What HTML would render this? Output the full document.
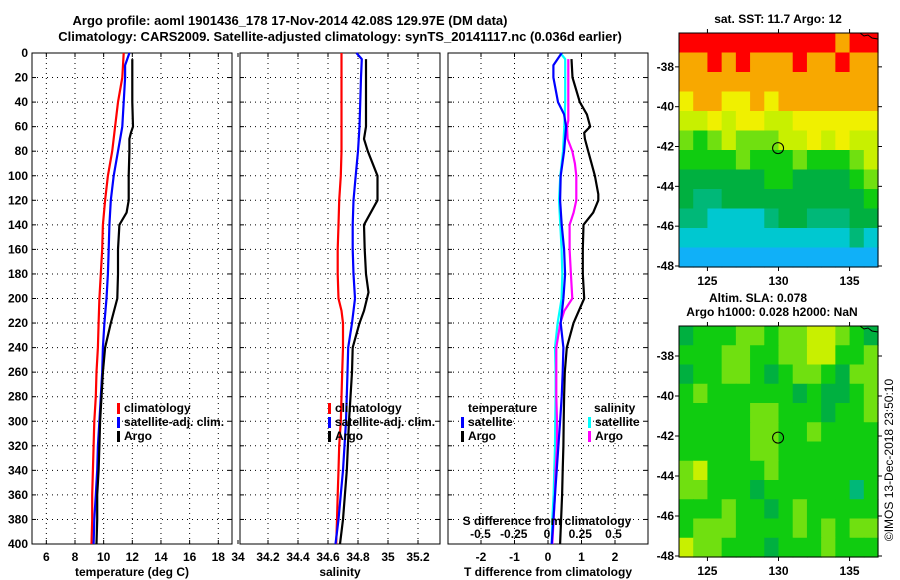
<!DOCTYPE html>
<html><head><meta charset="utf-8">
<style>
html,body{margin:0;padding:0;background:#fff;}
svg{display:block;font-family:"Liberation Sans",Arial,sans-serif;font-weight:bold;}
</style></head>
<body>
<svg id="fig" width="900" height="580" viewBox="0 0 900 580" xmlns="http://www.w3.org/2000/svg">
<text x="290" y="25" text-anchor="middle" font-size="13">Argo profile: aoml 1901436_178 17-Nov-2014 42.08S 129.97E (DM data)</text>
<text x="340" y="41" text-anchor="middle" font-size="13">Climatology: CARS2009. Satellite-adjusted climatology: synTS_20141117.nc (0.036d earlier)</text>
<text x="778" y="23" text-anchor="middle" font-size="12">sat. SST: 11.7 Argo: 12</text>
<text x="758" y="302" text-anchor="middle" font-size="12">Altim. SLA: 0.078</text>
<text x="772" y="316" text-anchor="middle" font-size="12">Argo h1000: 0.028 h2000: NaN</text>
<text transform="translate(893,460) rotate(-90)" text-anchor="middle" font-size="12" font-weight="normal">©IMOS 13-Dec-2018 23:50:10</text>
</svg>
<script>
// ---- profile data ----
const tempClimDepth=[0,20,40,60,80,100,120,140,160,180,200,220,240,260,280,300,320,340,360,380,400];
const tempClim=[11.4,11.3,11.0,10.8,10.6,10.3,10.1,9.95,9.9,9.8,9.7,9.65,9.6,9.5,9.45,9.35,9.3,9.25,9.2,9.2,9.15];
const tempSatDepth=[0,10,20,40,60,80,100,120,140,160,180,200,220,240,260,280,300,320,340,360,380,400];
const tempSat=[11.8,11.5,11.5,11.4,11.3,11.0,10.7,10.5,10.4,10.35,10.3,10.2,10.05,9.95,9.9,9.8,9.7,9.6,9.55,9.45,9.35,9.3];
const tempArgoDepth=[5,20,40,60,65,70,80,100,120,130,140,160,180,200,220,240,260,280,300,320,340,360,380,400];
const tempArgo=[12.0,12.0,12.0,12.05,11.9,11.8,11.8,11.75,11.75,11.6,11.1,11.0,11.0,10.95,10.5,10.1,9.95,9.85,9.75,9.7,9.65,9.55,9.55,9.5];

const salClimDepth=[0,40,80,100,120,140,160,180,200,210,220,240,260,280,300,320,340,360,380,400];
const salClim=[34.69,34.69,34.69,34.685,34.675,34.67,34.665,34.665,34.67,34.69,34.70,34.70,34.695,34.69,34.685,34.675,34.67,34.665,34.66,34.655];
const salSatDepth=[0,5,20,60,80,100,120,140,160,180,200,220,240,260,300,340,380,400];
const salSat=[34.79,34.825,34.82,34.81,34.80,34.785,34.77,34.765,34.765,34.77,34.78,34.76,34.735,34.73,34.72,34.70,34.67,34.65];
const salArgoDepth=[5,60,70,80,100,120,140,160,180,195,210,220,240,260,300,340,380,400];
const salArgo=[34.853,34.853,34.84,34.865,34.93,34.93,34.84,34.845,34.853,34.87,34.84,34.81,34.765,34.76,34.74,34.725,34.70,34.68];

const dTDepth=[0,10,20,40,50,60,80,100,120,140,160,180,200,220,240,260,280,300,320,340,360,380,400];
const dTSat=[0.41,0.16,0.16,0.3,0.48,0.54,0.48,0.38,0.36,0.41,0.48,0.51,0.46,0.38,0.46,0.44,0.41,0.36,0.31,0.26,0.21,0.16,0.11];
const dTArgoDepth=[5,20,40,50,60,65,70,80,100,115,120,130,140,160,180,200,220,240,260,280,300,320,340,360,380,400];
const dTArgo=[0.7,0.73,0.95,1.16,1.26,1.08,1.1,1.2,1.4,1.5,1.5,1.35,1.06,1.04,1.04,1.08,0.76,0.56,0.5,0.48,0.47,0.46,0.44,0.42,0.39,0.36];
const dSSatDepth=[0,5,40,60,80,100,120,140,160,180,200,220,240,260,280,300,320,340,360,380,400];
const dSSat=[0.10,0.137,0.137,0.13,0.12,0.10,0.09,0.10,0.11,0.115,0.11,0.08,0.06,0.065,0.065,0.062,0.06,0.055,0.05,0.04,0.035];
const dSArgoDepth=[5,40,55,60,70,80,90,100,120,130,140,160,180,200,210,220,240,260,280,300,320,340,360,380,400];
const dSArgo=[0.16,0.16,0.16,0.15,0.155,0.19,0.21,0.22,0.22,0.2,0.17,0.17,0.18,0.19,0.13,0.10,0.07,0.07,0.07,0.075,0.075,0.065,0.06,0.05,0.04];

// ---- tick data ----
const depthTicks=[0,20,40,60,80,100,120,140,160,180,200,220,240,260,280,300,320,340,360,380,400];
const tempTicks=[6,8,10,12,14,16,18];
const salTicks=[34,34.2,34.4,34.6,34.8,35,35.2];
const salTickLabels=["34","34.2","34.4","34.6","34.8","35","35.2"];
const dTTicks=[-2,-1,0,1,2];
const dSTicks=[-0.5,-0.25,0,0.25,0.5];
const latTicks=[-38,-40,-42,-44,-46,-48];
const lonTicks=[125,130,135];

// ---- map data (colour level per cell, rows north->south, cols west->east) ----
const mapPalette=["#1060ff","#10b0f8","#00c8d0","#00b878","#00b040","#10cc10","#70e010","#c8f000","#f0f000","#f8a800","#ff0000"];
const sstGrid=[
[10,10,10,10,10,10,10,10,10,10,10,9,10,10],
[9,9,10,9,10,9,9,9,10,9,9,10,9,9],
[9,9,9,9,9,9,9,9,9,9,9,9,9,9],
[8,9,9,8,8,9,8,9,9,9,9,9,9,9],
[7,7,8,7,8,8,7,7,8,8,8,8,8,8],
[6,5,6,7,6,6,6,7,7,8,7,8,7,7],
[5,5,5,5,6,5,5,5,6,5,5,5,6,7],
[4,4,4,4,4,4,5,5,4,4,4,4,5,6],
[4,3,3,4,4,4,4,4,4,4,4,4,4,5],
[3,3,2,2,2,2,3,4,4,3,3,3,4,4],
[2,2,2,2,2,2,2,2,2,2,2,2,3,2],
[1,1,1,1,1,1,1,1,1,1,1,1,1,1]];
const slaGrid=[
[4,5,5,5,6,6,5,6,6,7,7,6,5,4],
[5,5,5,6,6,5,5,6,6,7,7,5,5,6],
[4,5,5,6,6,5,4,5,6,6,5,4,6,6],
[5,6,5,5,5,5,5,5,4,5,4,4,5,6],
[5,5,5,5,5,6,6,5,5,5,4,5,5,6],
[5,5,5,5,5,6,6,5,5,6,5,5,5,5],
[5,5,5,5,5,6,6,5,5,5,5,5,5,5],
[6,7,5,5,5,5,6,5,5,5,5,5,5,5],
[6,6,5,5,5,4,5,5,5,5,5,5,3,5],
[5,5,5,6,5,5,4,5,6,5,5,5,5,5],
[5,6,6,6,5,5,5,5,6,5,6,5,6,6],
[7,6,6,5,5,5,4,5,5,5,6,5,5,5]];
const argoLon=129.97, argoLat=-42.08;

const NS="http://www.w3.org/2000/svg";
const svg=document.getElementById('fig');
function mk(tag,attrs,parent){const e=document.createElementNS(NS,tag);for(const k in attrs)e.setAttribute(k,attrs[k]);(parent||svg).appendChild(e);return e;}
function txt(x,y,s,anchor,size,parent){const t=mk('text',{x:x,y:y,'text-anchor':anchor,'font-size':size},parent);t.textContent=s;return t;}

const PT=53,PB=544;
const yD=d=>PT+(d/400)*(PB-PT);

function panel(name,x0,x1,xScale,xTicks,xLabels,xTitle,showY){
  const g=mk('g',{});
  
  
  mk('rect',{x:x0,y:PT,width:x1-x0,height:PB-PT,fill:'#fff',stroke:'#000','stroke-width':1},g);
  depthTicks.forEach(d=>{
    const y=yD(d);
    if(d>0&&d<400){const l=mk('line',{x1:x0,x2:x1,y1:y,y2:y,stroke:'#000','stroke-width':1,'stroke-dasharray':'1,4'},g);
      }
    mk('line',{x1:x0,x2:x0+4,y1:y,y2:y,stroke:'#000'},g);
    mk('line',{x1:x1-4,x2:x1,y1:y,y2:y,stroke:'#000'},g);
    if(showY){const t=txt(28,y+4,String(d),'end',12,g);}
  });
  xTicks.forEach((v,i)=>{
    const x=xScale(v);
    if(x>x0+1&&x<x1-1){const l=mk('line',{x1:x,x2:x,y1:PT,y2:PB,stroke:'#000','stroke-width':1,'stroke-dasharray':'1,4'},g);
      }
    mk('line',{x1:x,x2:x,y1:PB-4,y2:PB,stroke:'#000'},g);
    mk('line',{x1:x,x2:x,y1:PT,y2:PT+4,stroke:'#000'},g);
    const t=txt(x,561,xLabels[i],'middle',12,g);
    
    
  });
  const tt=txt((x0+x1)/2,576,xTitle,'middle',12,g);
  
  
  return g;
}
function line(g,depths,vals,xScale,color,name){
  const pts=depths.map((d,i)=>xScale(vals[i]).toFixed(1)+','+yD(d).toFixed(1)).join(' ');
  const p=mk('polyline',{points:pts,fill:'none',stroke:color,'stroke-width':2.2,'stroke-linejoin':'round'},g);
  
  
}
function legend(g,x,y,color,label,name){
  const r=mk('rect',{x:x,y:y-9,width:3,height:11,fill:color},g);
  
  
  const t=txt(x+7,y,label,'start',12,g);
  
  
}

// panel 1 temperature
const xT=v=>32+(v-5)*14.33;
const g1=panel('temperature-panel',32,232,xT,tempTicks,tempTicks.map(String),'temperature (deg C)',true);
line(g1,tempClimDepth,tempClim,xT,'#ff0000','temp-climatology-line');
line(g1,tempSatDepth,tempSat,xT,'#0000ff','temp-satellite-line');
line(g1,tempArgoDepth,tempArgo,xT,'#000000','temp-argo-line');
legend(g1,117,412,'#ff0000','climatology','legend-climatology');
legend(g1,117,426,'#0000ff','satellite-adj. clim.','legend-satellite');
legend(g1,117,440,'#000000','Argo','legend-argo');

// panel 2 salinity
const xS=v=>328+(v-34.6)*150;
const g2=panel('salinity-panel',240,440,xS,salTicks,salTickLabels,'salinity',false);
line(g2,salClimDepth,salClim,xS,'#ff0000','sal-climatology-line');
line(g2,salSatDepth,salSat,xS,'#0000ff','sal-satellite-line');
line(g2,salArgoDepth,salArgo,xS,'#000000','sal-argo-line');
legend(g2,328,412,'#ff0000','climatology','legend-climatology');
legend(g2,328,426,'#0000ff','satellite-adj. clim.','legend-satellite');
legend(g2,328,440,'#000000','Argo','legend-argo');

// panel 3 differences
const xdT=v=>548+v*33.5;
const xdS=v=>547+v*133;
const g3=panel('difference-panel',448,648,xdT,dTTicks,dTTicks.map(String),'T difference from climatology',false);
line(g3,dSSatDepth,dSSat,xdS,'#00ffff','ds-satellite-line');
line(g3,dSArgoDepth,dSArgo,xdS,'#ff00ff','ds-argo-line');
line(g3,dTDepth,dTSat,xdT,'#0000ff','dt-satellite-line');
line(g3,dTArgoDepth,dTArgo,xdT,'#000000','dt-argo-line');
let t3=txt(468,412,'temperature','start',12,g3);
legend(g3,461,426,'#0000ff','satellite','legend-t-satellite');
legend(g3,461,440,'#000000','Argo','legend-t-argo');
t3=txt(594,412,'salinity','start',12,g3);
legend(g3,588,426,'#00ffff','satellite','legend-s-satellite');
legend(g3,588,440,'#ff00ff','Argo','legend-s-argo');
t3=txt(547,525,'S difference from climatology','middle',12,g3);
const dSLabels=["-0.5","-0.25","0","0.25","0.5"];
dSTicks.forEach((v,i)=>{const t=txt(xdS(v),538,dSLabels[i],'middle',12,g3);
  });

// maps
const MX0=679,MX1=878,LON0=123,LON1=137;
function map(name,y0,y1,lat0,lat1,grid){
  const g=mk('g',{});
  
  
  const xL=v=>MX0+(v-LON0)/(LON1-LON0)*(MX1-MX0);
  const yL=v=>y0+(lat0-v)/(lat0-lat1)*(y1-y0);
  const rows=grid.length,cols=grid[0].length;
  const cw=(MX1-MX0)/cols,ch=(y1-y0)/rows;
  grid.forEach((row,r)=>row.forEach((lv,c)=>{
    const cell=mk('rect',{x:(MX0+c*cw).toFixed(2),y:(y0+r*ch).toFixed(2),width:(cw+0.6).toFixed(2),height:(ch+0.6).toFixed(2),fill:mapPalette[lv]},g);
    
    
  }));
  mk('rect',{x:MX0,y:y0,width:MX1-MX0,height:y1-y0,fill:'none',stroke:'#000'},g);
  latTicks.forEach(v=>{const y=yL(v);
    mk('line',{x1:MX0-4,x2:MX0,y1:y,y2:y,stroke:'#000'},g);
    mk('line',{x1:MX1,x2:MX1+4,y1:y,y2:y,stroke:'#000'},g);
    const t=txt(MX0-5,y+4,String(v),'end',12,g);
    });
  lonTicks.forEach(v=>{const x=xL(v);
    mk('line',{x1:x,x2:x,y1:y0-4,y2:y0,stroke:'#000'},g);
    mk('line',{x1:x,x2:x,y1:y1,y2:y1+4,stroke:'#000'},g);
    const t=txt(x,y1+18,String(v),'middle',12,g);
    });
  const c=mk('circle',{cx:xL(argoLon),cy:yL(argoLat),r:5.5,fill:'none',stroke:'#000','stroke-width':1},g);
  
  
  const coast=mk('polyline',{points:`${MX1-18},${y0} ${MX1-14},${y0+3} ${MX1-10},${y0+2} ${MX1-6},${y0+5} ${MX1},${y0+6}`,fill:'none',stroke:'#000','stroke-width':1},g);
  
  
}
map('sst-map',33,267,-36.3,-48.05,sstGrid);
map('sla-map',326,557,-36.5,-48.05,slaGrid);
</script>
</body></html>
